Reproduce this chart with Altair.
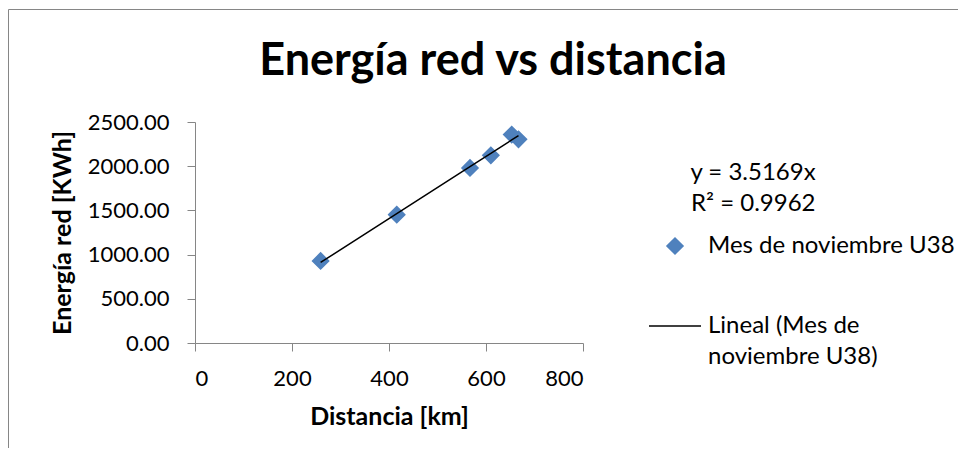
import json
import altair as alt
import pandas as pd

# ---- data ----
distancia = [259, 416, 567, 610, 653, 667]
energia = [928, 1452, 1980, 2123, 2358, 2304]
pendiente = 3.5169
r2 = 0.9962
serie = "Mes de noviembre U38"
serie_tend = "Lineal (Mes de noviembre U38)"
serie_tend_lineas = ["Lineal (Mes de", "noviembre U38)"]
x_ticks = [0, 200, 400, 600, 800]
y_ticks = [0, 500, 1000, 1500, 2000, 2500]
titulo = "Energía red vs distancia"
x_titulo = "Distancia [km]"
y_titulo = "Energía red [KWh]"

df = pd.DataFrame({"distancia": distancia, "energia": energia, "serie": [serie] * len(distancia)})

FONT = "Lato"
BLUE = "#4F81BD"
GRAY = "#868686"
INDENT = "\u200b" + "\u00a0" * 7

dom = [serie, serie_tend]

x_axis = alt.Axis(values=x_ticks, format="d", title=x_titulo, labelPadding=17, titlePadding=15)
y_axis = alt.Axis(values=y_ticks, format=".2f", title=y_titulo, labelPadding=18, titlePadding=12)
x_scale = alt.Scale(domain=[0, 800], nice=False)
y_scale = alt.Scale(domain=[0, 2500], nice=False)

label_expr = (
    f"datum.label == '{serie_tend}' ? {json.dumps(serie_tend_lineas)} : datum.label"
)
legend = alt.Legend(
    title=[INDENT + f"y = {pendiente}x", INDENT + f"R² = {r2}"],
    orient="none",
    legendX=453,
    legendY=39,
    labelExpr=label_expr,
)

frame = alt.Chart(pd.DataFrame({"k": [0]})).mark_rect(
    fill="white", fillOpacity=0, stroke=GRAY, strokeWidth=1
).encode(
    x=alt.value(-186.5), x2=alt.value(1000), y=alt.value(-112.5), y2=alt.value(800)
)

points = alt.Chart(df).mark_point(filled=True, opacity=1, strokeWidth=1.5).encode(
    x=alt.X("distancia:Q", scale=x_scale, axis=x_axis),
    y=alt.Y("energia:Q", scale=y_scale, axis=y_axis),
    color=alt.Color("serie:N", scale=alt.Scale(domain=dom, range=[BLUE, "black"]), legend=legend),
    stroke=alt.Stroke("serie:N", scale=alt.Scale(domain=dom, range=[BLUE, "black"]), legend=legend),
    shape=alt.Shape("serie:N", scale=alt.Scale(domain=dom, range=["diamond", "stroke"]), legend=legend),
    size=alt.Size("serie:N", scale=alt.Scale(domain=dom, range=[260, 2704]), legend=legend),
)

trend = alt.Chart(df).transform_calculate(
    pred=f"{pendiente} * datum.distancia"
).mark_line(color="black", strokeWidth=1.5).encode(
    x=alt.X("distancia:Q", scale=x_scale, axis=x_axis),
    y=alt.Y("pred:Q", scale=y_scale, axis=y_axis),
)

chart = alt.layer(frame, points, trend).properties(
    width=388,
    height=221,
    padding={"left": 187, "top": 114, "right": 375, "bottom": 105},
    autosize=alt.AutoSizeParams(type="none"),
    title=alt.TitleParams(
        text=titulo,
        font=FONT,
        fontSize=45,
        fontWeight="bold",
        color="black",
        anchor="middle",
        frame="group",
        dx=104,
        dy=111,
        offset=0,
        baseline="alphabetic",
    ),
).configure(
    style={"guide-label": {"lineHeight": 31}}
).configure_view(stroke=None).configure_axis(
    domainColor=GRAY,
    tickColor=GRAY,
    domainWidth=1,
    tickWidth=1,
    tickSize=8,
    grid=False,
    labelFont=FONT,
    labelFontSize=22,
    labelColor="black",
    titleFont=FONT,
    titleFontSize=25,
    titleFontWeight="bold",
    titleColor="black",
).configure_legend(
    labelFont=FONT,
    labelFontSize=24,
    labelColor="black",
    labelLimit=400,
    labelOffset=6,
    titleFont=FONT,
    titleFontSize=24,
    titleFontWeight="normal",
    titleColor="black",
    titleLineHeight=31,
    titlePadding=18,
    titleLimit=400,
    rowPadding=41,
    padding=0,
    symbolStrokeWidth=1.5,
)

chart.save("out.html", embed_options={"renderer": "svg", "actions": False})
